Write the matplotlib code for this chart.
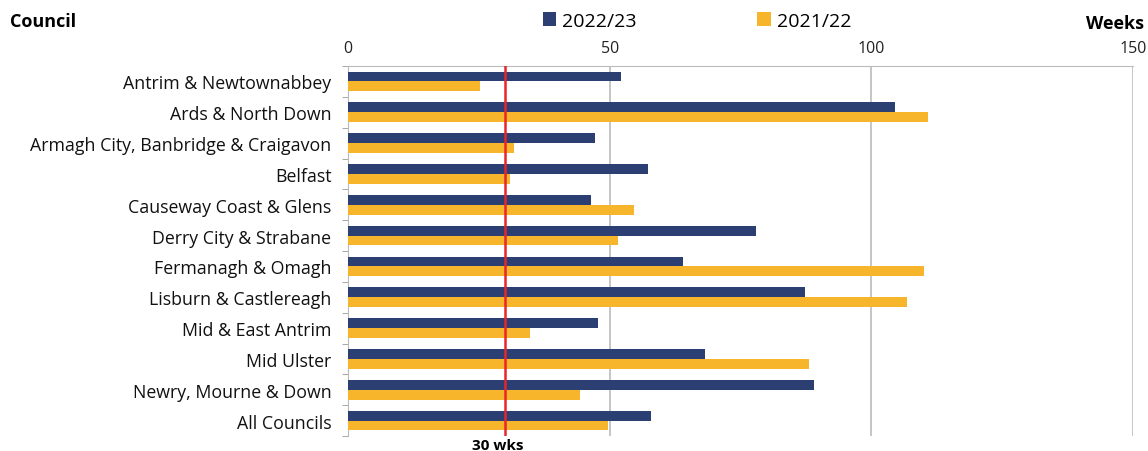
import matplotlib
matplotlib.use("Agg")
import matplotlib.pyplot as plt
import numpy as np

councils = ["Antrim & Newtownabbey", "Ards & North Down", "Armagh City, Banbridge & Craigavon",
            "Belfast", "Causeway Coast & Glens", "Derry City & Strabane", "Fermanagh & Omagh",
            "Lisburn & Castlereagh", "Mid & East Antrim", "Mid Ulster", "Newry, Mourne & Down",
            "All Councils"]
weeks_2022_23 = [52.2, 104.6, 47.2, 57.4, 46.5, 78.0, 64.1, 87.4, 47.8, 68.3, 89.1, 57.9]
weeks_2021_22 = [25.2, 110.9, 31.7, 31.0, 54.7, 51.6, 110.1, 106.9, 34.8, 88.1, 44.4, 49.7]
xticks = [0, 50, 100, 150]
target = 30

plt.rcParams['font.family'] = ['Open Sans', 'DejaVu Sans']
navy = "#2B3F73"
gold = "#F7B52C"

fig = plt.figure(figsize=(11.48, 4.52), dpi=100)
ax = fig.add_axes([348/1148, 1-437/452, (1133-348)/1148, (437-67)/452])

y = np.arange(len(councils))
h = 0.32
ax.barh(y - h/2, weeks_2022_23, height=h, color=navy, zorder=3, label="2022/23")
ax.barh(y + h/2, weeks_2021_22, height=h, color=gold, zorder=3, label="2021/22")
ax.axvline(target, color="#E8252A", lw=1.8, zorder=4)

ax.set_xlim(0, 150)
ax.set_ylim(len(councils) - 0.5, -0.5)
ax.set_xticks(xticks)
ax.xaxis.tick_top()
ax.tick_params(axis='x', length=0, labelsize=11.5, pad=7, colors="#222222")
ax.set_yticks(y)
ax.set_yticklabels(councils, fontsize=12.8, color="#111111")
ax.tick_params(axis='y', length=0, pad=12)
ax.set_yticks(np.arange(-0.5, len(councils) + 0.5, 1), minor=True)
ax.tick_params(axis='y', which='minor', length=4, color="#999999", direction='out')
for x in xticks[1:]:
    ax.axvline(x, color="#BBBBBB", lw=1.2, zorder=1)
for s in ["right", "bottom"]:
    ax.spines[s].set_visible(False)
ax.spines["top"].set_color("#BBBBBB")
ax.spines["left"].set_color("#BBBBBB")

fig.text(10/1148, 1-22/452, "Council", fontsize=13, fontweight='bold', va='center', ha='left')
fig.text(1144/1148, 1-24/452, "Weeks", fontsize=13, fontweight='bold', va='center', ha='right')
fig.text(498/1148, 1-446/452, "30 wks", fontsize=11, fontweight='bold', va='center', ha='center')

leg = fig.legend(loc='center', bbox_to_anchor=(697/1148, 1-22/452), ncol=2, frameon=False,
                 fontsize=14, handlelength=0.7, handleheight=0.7, columnspacing=6.2, handletextpad=0.3)

fig.savefig("out.png", dpi=100)
